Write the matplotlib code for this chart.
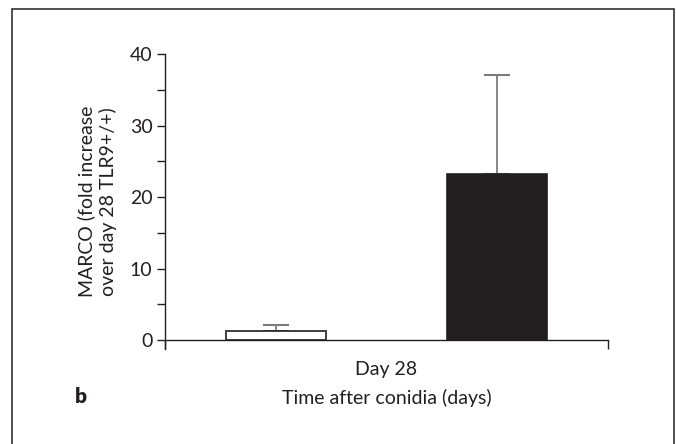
import matplotlib
matplotlib.use("Agg")
import matplotlib.pyplot as plt
from matplotlib.patches import Rectangle

# values
groups = ["TLR9+/+", "TLR9-/-"]
means = [1.3, 23.3]
upper_err = [0.9, 13.8]
bar_colors = ["white", "#231f20"]
y_ticks = [0, 10, 20, 30, 40]
y_minor = [5, 15, 25, 35]

plt.rcParams['font.family'] = ['Lato', 'DejaVu Sans']
ink = "#231f20"

fig = plt.figure(figsize=(6.76, 4.44), dpi=100)
ax = fig.add_axes([165/676, 95/444, 443/676, 295/444])

xpos = [0.25, 0.75]
ax.bar(xpos, means, width=0.226, color=bar_colors, edgecolor=ink, linewidth=1.2, zorder=2)
eb = ax.errorbar(xpos, means, yerr=[[0, 0], upper_err], fmt='none',
                 ecolor="#7d7d7d", elinewidth=1.3, capsize=9.3, capthick=1.5, zorder=1)
for cap in eb[1]:
    cap.set_color(ink)

ax.set_xlim(0, 1)
ax.set_ylim(-1.22, 40)
ax.spines['top'].set_visible(False)
ax.spines['right'].set_visible(False)
ax.spines['bottom'].set_position(('data', 0))
for s in ['left', 'bottom']:
    ax.spines[s].set_color(ink)
    ax.spines[s].set_linewidth(1.0)

ax.set_yticks(y_ticks)
ax.set_yticks(y_minor, minor=True)
ax.tick_params(axis='y', which='major', length=6, width=1.0, color=ink,
               labelsize=14, labelcolor=ink, pad=3)
ax.tick_params(axis='y', which='minor', length=6, width=1.0, color=ink)
ax.set_xticks([0, 1])
ax.set_xticklabels([])
ax.tick_params(axis='x', length=6.5, width=1.0, color=ink, direction='out')

ax.text(0.5, -0.07, "Day 28", transform=ax.transAxes, ha='center', va='center',
        fontsize=14, color=ink)
ax.text(0.5, -0.165, "Time after conidia (days)", transform=ax.transAxes,
        ha='center', va='center', fontsize=14, color=ink)
ax.set_ylabel("MARCO (fold increase\nover day 28 TLR9+/+)", fontsize=14,
              color=ink, labelpad=9, linespacing=1.25)

fig.text(75/676, 1 - 396/444, "b", fontsize=15, fontweight='heavy', color=ink,
         ha='left', va='center')

fig.patches.append(Rectangle((12/676, -0.05), 662/676, 1.05 - 9.5/444,
                             transform=fig.transFigure, fill=False,
                             edgecolor="#333333", linewidth=1.2))

fig.savefig("out.png", dpi=100)
